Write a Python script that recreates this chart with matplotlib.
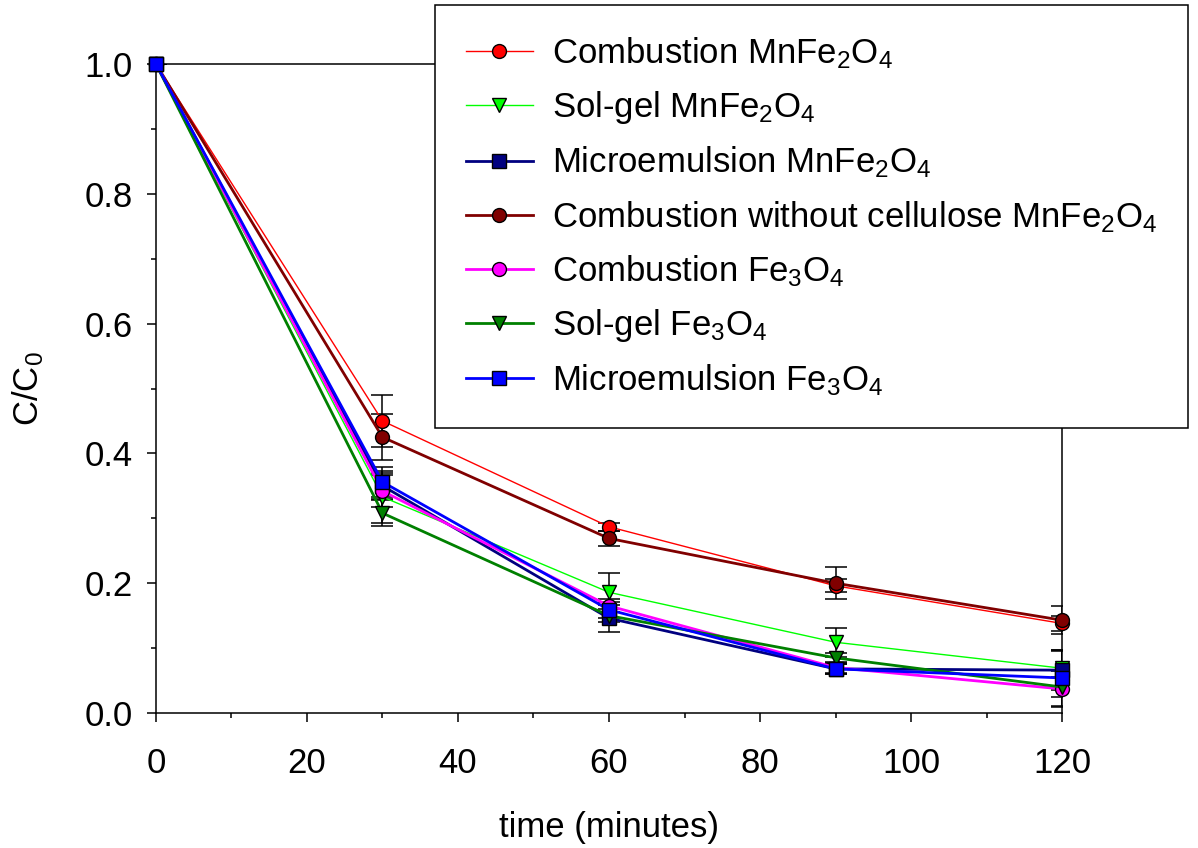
import numpy as np
import matplotlib
matplotlib.use("Agg")
import matplotlib.pyplot as plt
from matplotlib.ticker import MultipleLocator

plt.rcParams['font.family'] = ['Liberation Sans', 'DejaVu Sans']
plt.rcParams['mathtext.fontset'] = 'custom'
plt.rcParams['mathtext.rm'] = 'Liberation Sans'
plt.rcParams['mathtext.it'] = 'Liberation Sans'
plt.rcParams['mathtext.default'] = 'regular'

# sampling times (minutes)
time_min = [0, 30, 60, 90, 120]

# C/C0 for each catalyst, with standard deviations
comb_mnfe = [1.0, 0.450, 0.287, 0.196, 0.138]
comb_mnfe_err = [0, 0.040, 0.006, 0.010, 0.012]
solgel_mnfe = [1.0, 0.333, 0.186, 0.109, 0.069]
solgel_mnfe_err = [0, 0.040, 0.030, 0.022, 0.028]
micro_mnfe = [1.0, 0.350, 0.146, 0.068, 0.066]
micro_mnfe_err = [0, 0.020, 0.021, 0.008, 0.030]
comb_nocell_mnfe = [1.0, 0.425, 0.269, 0.200, 0.143]
comb_nocell_mnfe_err = [0, 0.035, 0.012, 0.025, 0.022]
comb_fe = [1.0, 0.342, 0.165, 0.070, 0.037]
comb_fe_err = [0, 0.025, 0.010, 0.008, 0.028]
solgel_fe = [1.0, 0.308, 0.150, 0.085, 0.040]
solgel_fe_err = [0, 0.020, 0.010, 0.008, 0.015]
micro_fe = [1.0, 0.356, 0.159, 0.068, 0.054]
micro_fe_err = [0, 0.023, 0.012, 0.008, 0.043]

series = [
    ("Combustion MnFe$_2$O$_4$", comb_mnfe, comb_mnfe_err, "#ff0000", "o", 1.0),
    ("Sol-gel MnFe$_2$O$_4$", solgel_mnfe, solgel_mnfe_err, "#00ff00", "v", 1.0),
    ("Microemulsion MnFe$_2$O$_4$", micro_mnfe, micro_mnfe_err, "#000080", "s", 2.0),
    ("Combustion without cellulose MnFe$_2$O$_4$", comb_nocell_mnfe, comb_nocell_mnfe_err, "#800000", "o", 2.0),
    ("Combustion Fe$_3$O$_4$", comb_fe, comb_fe_err, "#ff00ff", "o", 2.0),
    ("Sol-gel Fe$_3$O$_4$", solgel_fe, solgel_fe_err, "#008000", "v", 2.0),
    ("Microemulsion Fe$_3$O$_4$", micro_fe, micro_fe_err, "#0000ff", "s", 2.0),
]

fig = plt.figure(figsize=(11.98, 8.48), dpi=100)
ax = fig.add_axes([0.1302, 0.1592, 0.7563, 0.7653])

for label, vals, errs, color, marker, lw in series:
    ax.errorbar(time_min, vals, yerr=errs, fmt="none", ecolor="black",
                elinewidth=1.1, capsize=8, capthick=1.1, zorder=2)
    ax.plot(time_min, vals, color=color, lw=lw, marker=marker, markersize=10,
            markerfacecolor=color, markeredgecolor="black", markeredgewidth=1.0,
            label=label, zorder=3, clip_on=False)

ax.set_xlim(0, 120)
ax.set_ylim(0, 1.0)
ax.xaxis.set_major_locator(MultipleLocator(20))
ax.xaxis.set_minor_locator(MultipleLocator(10))
ax.yaxis.set_major_locator(MultipleLocator(0.2))
ax.yaxis.set_minor_locator(MultipleLocator(0.1))
ax.yaxis.set_major_formatter(matplotlib.ticker.FormatStrFormatter("%.1f"))

for sp in ax.spines.values():
    sp.set_linewidth(1.1)
ax.tick_params(which="both", direction="out", top=False, right=False, width=1.1)
ax.tick_params(which="major", length=6.5, labelsize=25, pad=10)
ax.tick_params(which="minor", length=3.6)
ax.tick_params(axis="x", which="major", pad=18)

ax.set_xlabel("time (minutes)", fontsize=25, labelpad=22)
ax.set_ylabel("C/C$_0$", fontsize=25, labelpad=28)

leg = ax.legend(loc="upper right", bbox_to_anchor=(1188 / 1198, 1 - 5 / 848),
                bbox_transform=fig.transFigure, borderaxespad=0, fontsize=25,
                frameon=True, fancybox=False, edgecolor="black", framealpha=1,
                handlelength=1.95, handletextpad=0.55, labelspacing=0.53,
                borderpad=0.87)
leg.get_frame().set_linewidth(1.1)
leg.set_zorder(5)

fig.savefig("out.png", dpi=100)
